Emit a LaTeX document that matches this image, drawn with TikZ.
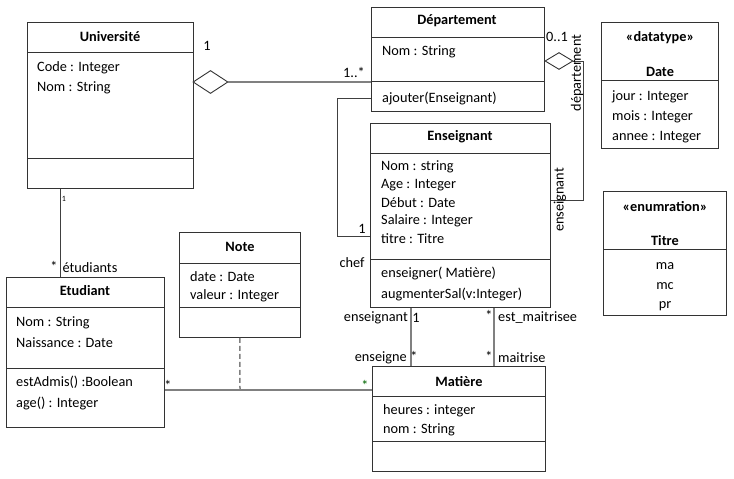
\documentclass[tikz,border=0pt]{standalone}
\usepackage{fontspec}
\setmainfont{Carlito}
\usetikzlibrary{shapes.geometric}
\newcommand\umlfont{\fontsize{14.3}{16}\selectfont}
\tikzset{
  classbox/.style={draw=black!80, line width=0.9pt, anchor=north west, inner sep=0pt},
  sep/.style={draw=black!80, line width=0.9pt},
  ctitle/.style={font=\umlfont\bfseries, inner sep=0pt},
  attr/.style={anchor=west, inner sep=0pt},
  link/.style={draw=black!50, line width=1.5pt},
  thinlink/.style={draw=black!75, line width=0.9pt},
  lbl/.style={inner sep=0pt},
  agg/.style={diamond, draw=black!80, fill=white, line width=0.9pt, inner sep=0pt}
}
\begin{document}
\begin{tikzpicture}[x=1pt, y=-1pt, font=\umlfont]
        \useasboundingbox (0,0) rectangle (734,479);
        % Universite
        \node [classbox, minimum width=166, minimum height=166] (univ) at (27,22) {};
        \draw [sep] (27,52) -- (193,52);                               %
        \draw [sep] (27,158) -- (193,158);                             %
        \node [ctitle] (univT) at (110,37) {Université};               %
        \node [attr] (univA1) at (37,68)  {Code : Integer};            %
        \node [attr] (univA2) at (37,88)  {Nom : String};              %
        % Departement
        \node [classbox, minimum width=173, minimum height=104] (dep) at (371,7) {};
        \draw [sep] (371,37) -- (544,37);                              %
        \draw [sep] (371,81) -- (544,81);                              %
        \node [ctitle] (depT) at (457,21) {Département};               %
        \node [attr] (depA1) at (382,52)  {Nom : String};              %
        \node [attr] (depM1) at (382,98)  {ajouter(Enseignant)};       %
        % Enseignant
        \node [classbox, minimum width=180, minimum height=184] (ens) at (370,123) {};
        \draw [sep] (370,153) -- (550,153);                            %
        \draw [sep] (370,259) -- (550,259);                            %
        \node [ctitle] (ensT) at (460,137) {Enseignant};               %
        \node [attr] (ensA1) at (381,167) {Nom : string};              %
        \node [attr] (ensA2) at (381,185) {Age : Integer};             %
        \node [attr] (ensA3) at (381,203) {Début : Date};              %
        \node [attr] (ensA4) at (381,221) {Salaire : Integer};         %
        \node [attr] (ensA5) at (381,239) {titre : Titre};             %
        \node [attr] (ensM1) at (381,273) {enseigner( Matière)};       %
        \node [attr] (ensM2) at (381,294) {augmenterSal(v:Integer)};   %
        % Date
        \node [classbox, minimum width=117, minimum height=126] (date) at (601,22) {};
        \draw [sep] (601,80) -- (718,80);                              %
        \node [ctitle] (dateS) at (660,38) {«datatype»};               %
        \node [ctitle] (dateT) at (660,72) {Date};                     %
        \node [attr] (dateA1) at (612,97)  {jour : Integer};           %
        \node [attr] (dateA2) at (612,117) {mois : Integer};           %
        \node [attr] (dateA3) at (612,137) {annee : Integer};          %
        % Titre
        \node [classbox, minimum width=123, minimum height=124] (titre) at (603,191) {};
        \draw [sep] (603,249) -- (726,249);                            %
        \node [ctitle] (titreS) at (665,207) {«enumration»};           %
        \node [ctitle] (titreT) at (665,241) {Titre};                  %
        \node [lbl] (titreV1) at (665,266) {ma};                       %
        \node [lbl] (titreV2) at (665,286) {mc};                       %
        \node [lbl] (titreV3) at (665,306) {pr};                       %
        % Etudiant
        \node [classbox, minimum width=158, minimum height=150] (etud) at (6,277) {};
        \draw [sep] (6,307) -- (164,307);                              %
        \draw [sep] (6,368) -- (164,368);                              %
        \node [ctitle] (etudT) at (85,291) {Etudiant};                 %
        \node [attr] (etudA1) at (16,323) {Nom : String};              %
        \node [attr] (etudA2) at (16,343) {Naissance : Date};          %
        \node [attr] (etudM1) at (16,382) {estAdmis() :Boolean};       %
        \node [attr] (etudM2) at (16,403) {age() : Integer};           %
        % Note
        \node [classbox, minimum width=121, minimum height=105] (note) at (179,232) {};
        \draw [sep] (179,263) -- (300,263);                            %
        \draw [sep] (179,307) -- (300,307);                            %
        \node [ctitle] (noteT) at (240,247) {Note};                    %
        \node [attr] (noteA1) at (190,277) {date : Date};              %
        \node [attr] (noteA2) at (190,296) {valeur : Integer};         %
        % Matiere
        \node [classbox, minimum width=173, minimum height=105] (mat) at (372,366) {};
        \draw [sep] (372,396) -- (545,396);                            %
        \draw [sep] (372,441) -- (545,441);                            %
        \node [ctitle] (matT) at (459,382) {Matière};                  %
        \node [attr] (matA1) at (383,411) {heures : integer};          %
        \node [attr] (matA2) at (383,430) {nom : String};              %
        % Universite -- Departement
        \node [agg, minimum width=35, minimum height=23] (agg1) at (210.5,82) {};
        \draw [link] (agg1.east) -- (agg1.east -| dep.west);           %
        \node [lbl] at (207,46) {1};                                   %
        \node [lbl] at (354,72) {1..*};                                %
        % Departement -- Enseignant (chef)
        \coordinate (chefA) at (337,98);                               %
        \coordinate (chefB) at (337,236);                              %
        \draw [thinlink] (chefA -| dep.west) -- (chefA) -- (chefB) -- (chefB -| ens.west);
        \node [lbl] at (362,229) {1};                                  %
        \node [lbl] at (352,263) {chef};                               %
        % Departement -- Enseignant (departement)
        \node [agg, minimum width=28, minimum height=17] (agg2) at (559,61) {};
        \coordinate (depA) at (583,61);                                %
        \coordinate (depB) at (583,200);                               %
        \draw [thinlink] (agg2.east) -- (depA) -- (depB) -- (depB -| ens.east);
        \node [lbl] at (557,37) {0..1};                                %
        \node [lbl, rotate=90] at (577,73) {département};              %
        \node [lbl, rotate=90] at (560,200) {enseignant};              %
        % Universite -- Etudiant
        \coordinate (stud) at (60,230);                                %
        \draw [thinlink] (stud |- univ.south) -- (stud |- etud.north); %
        \node [lbl, font=\fontsize{8}{9}\selectfont] at (64,199) {1};  %
        \node [lbl] at (54,266) {*};                                   %
        \node [lbl] at (90,268) {étudiants};                           %
        % Etudiant -- Matiere (Note)
        \coordinate (assoc) at (240,390);                              %
        \draw [link] (assoc -| etud.east) -- (assoc -| mat.west);      %
        \draw [link, dash pattern=on 5pt off 3pt] (note.south) -- (assoc);
        \node [lbl] at (168,385) {*};                                  %
        \node [lbl, text=green!40!black] at (365,385) {*};             %
        % Enseignant -- Matiere
        \coordinate (teach) at (411,330);                              %
        \coordinate (mast) at (494,330);                               %
        \draw [link] (teach |- ens.south) -- (teach |- mat.north);     %
        \draw [link] (mast |- ens.south) -- (mast |- mat.north);       %
        \node [lbl, anchor=east] at (408,318) {enseignant};            %
        \node [lbl] at (416,318) {1};                                  %
        \node [lbl, anchor=east] at (407,358) {enseigne};              %
        \node [lbl] at (414,356) {*};                                  %
        \node [lbl] at (489,315) {*};                                  %
        \node [lbl, anchor=west] at (498,318) {est\_maitrisee};        %
        \node [lbl] at (489,356) {*};                                  %
        \node [lbl, anchor=west] at (498,358) {maitrise};              %
\end{tikzpicture}
\end{document}
